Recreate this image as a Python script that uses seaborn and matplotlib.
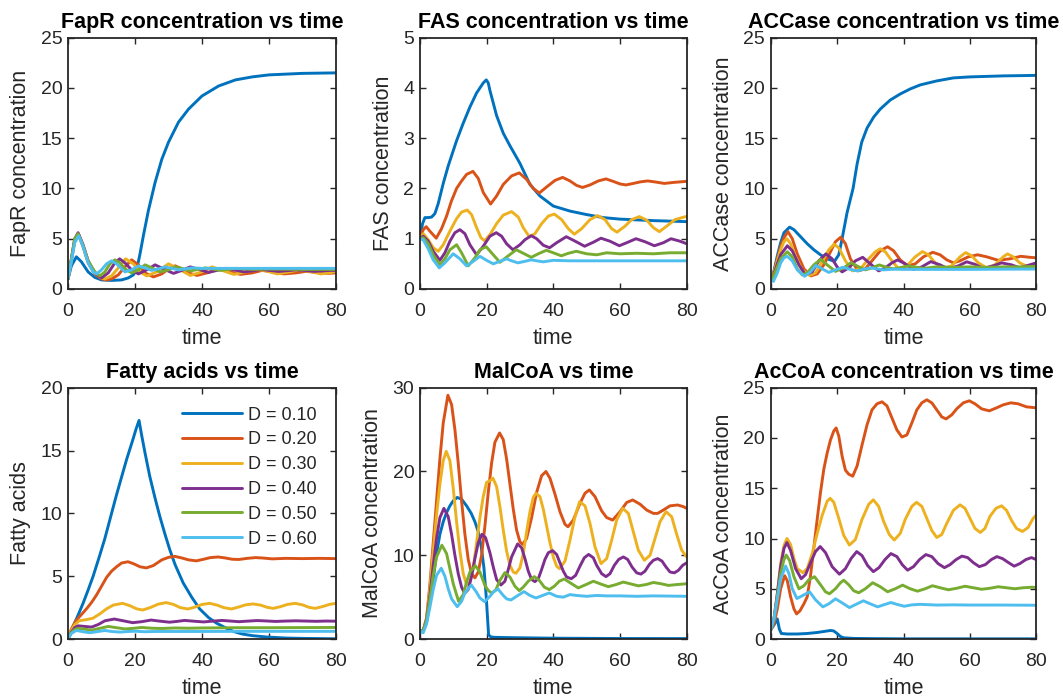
import pandas as pd
import matplotlib
matplotlib.use("Agg")
import matplotlib.pyplot as plt
import seaborn as sns

# dilution rates and MATLAB default line colours
D_LABELS = ["D = 0.10", "D = 0.20", "D = 0.30", "D = 0.40", "D = 0.50", "D = 0.60"]
COLORS = ["#0072BD", "#D95319", "#EDB120", "#7E2F8E", "#77AC30", "#4DBEEE"]

# ---------------- FapR concentration ----------------
fapr_t_10 = [0, 1, 2.5, 4, 6, 8, 10, 13, 16, 18, 19.5, 20.5, 21.5, 22.5, 24, 26, 28, 30, 33, 36, 40, 45, 50, 55, 60, 70, 80]
fapr_y_10 = [1.0, 2.3, 3.2, 2.7, 1.7, 1.15, 0.9, 0.85, 0.9, 1.1, 1.4, 1.9, 3.5, 5.3, 7.8, 10.6, 12.9, 14.6, 16.6, 17.9, 19.2, 20.2, 20.8, 21.1, 21.3, 21.45, 21.5]
fapr_t_20 = [0, 1, 2, 3.2, 4.5, 6, 8, 10, 11.5, 13, 15, 17, 19, 21, 23, 25.5, 28, 30, 32, 34, 36, 38.5, 41.5, 45, 48.5, 51.5, 55, 58, 61, 64.5, 68, 71, 74.5, 77.5, 80]
fapr_y_20 = [1.0, 2.8, 4.8, 5.4, 4.2, 2.6, 1.5, 1.0, 0.9, 1.0, 1.4, 2.2, 2.9, 2.4, 1.6, 1.2, 1.5, 2.0, 2.3, 2.0, 1.6, 1.35, 1.6, 2.0, 1.7, 1.45, 1.6, 1.85, 1.7, 1.5, 1.6, 1.75, 1.65, 1.55, 1.6]
fapr_t_30 = [0, 1, 2, 3, 4.5, 6, 8, 10, 11, 13, 15, 17.2, 19.5, 21.5, 23.5, 26.5, 30, 33, 36.5, 40, 43, 46, 49.5, 53, 56, 59, 62.5, 66, 69, 72, 75.5, 78, 80]
fapr_y_30 = [1.0, 2.9, 4.9, 5.5, 4.3, 2.7, 1.6, 1.1, 1.0, 1.3, 2.1, 3.0, 2.5, 1.7, 1.3, 1.7, 2.5, 2.0, 1.35, 1.7, 2.2, 1.85, 1.45, 1.7, 2.0, 1.8, 1.5, 1.7, 1.9, 1.75, 1.5, 1.6, 1.75]
fapr_t_40 = [0, 1, 2, 3, 4.5, 6, 8, 10, 12, 14, 15.4, 17, 19, 21, 23.5, 26, 28.5, 31.5, 34, 36.5, 39, 42, 44.5, 47, 49.5, 52.5, 55, 57.5, 60, 63, 65.5, 68, 70.5, 73.5, 76, 78.5, 80]
fapr_y_40 = [1.0, 3.0, 5.0, 5.6, 4.4, 2.8, 1.6, 1.1, 1.6, 2.6, 3.0, 2.6, 1.9, 1.5, 1.9, 2.4, 2.0, 1.55, 1.85, 2.2, 1.95, 1.65, 1.85, 2.05, 1.9, 1.7, 1.8, 1.95, 1.85, 1.75, 1.82, 1.9, 1.85, 1.75, 1.8, 1.85, 1.85]
fapr_t_50 = [0, 1, 2, 3, 4.5, 6, 8, 9.5, 11, 12.5, 14, 15.5, 17, 19, 21, 23, 25, 27.5, 30, 32, 34, 36.5, 39, 41, 43, 45.5, 48, 50, 55, 60, 70, 80]
fapr_y_50 = [1.0, 3.0, 5.0, 5.5, 4.3, 2.8, 1.7, 1.3, 1.7, 2.5, 2.9, 2.6, 2.0, 1.6, 1.9, 2.4, 2.1, 1.7, 1.9, 2.2, 2.05, 1.8, 1.95, 2.1, 2.0, 1.85, 1.95, 2.05, 1.95, 1.98, 1.95, 1.95]
fapr_t_60 = [0, 1, 2, 3.2, 4.5, 6, 7.5, 8.5, 10, 11.5, 13, 14.5, 17, 19, 21, 23, 25, 27, 29, 31, 33, 35, 37, 40, 50, 60, 80]
fapr_y_60 = [1.0, 2.7, 4.6, 5.3, 4.2, 2.6, 1.7, 1.5, 1.9, 2.5, 2.8, 2.5, 1.7, 1.9, 2.3, 2.1, 1.85, 2.0, 2.2, 2.05, 1.9, 2.0, 2.1, 2.05, 2.05, 2.05, 2.05]

# ---------------- FAS concentration ----------------
fas_t_10 = [0, 0.8, 1.5, 2.5, 3.5, 4.5, 5.5, 7, 8.5, 10, 11, 13, 15, 17, 19, 19.9, 20.5, 21, 23, 25, 27, 30, 33, 36, 40, 45, 50, 55, 60, 70, 80]
fas_y_10 = [1.0, 1.3, 1.42, 1.42, 1.43, 1.5, 1.7, 2.1, 2.45, 2.75, 2.95, 3.3, 3.62, 3.9, 4.1, 4.16, 4.1, 3.95, 3.45, 3.1, 2.85, 2.5, 2.08, 1.85, 1.65, 1.55, 1.48, 1.42, 1.39, 1.36, 1.34]
fas_t_20 = [0, 1, 1.9, 3, 4.9, 6.5, 8, 9.4, 11, 12.4, 14, 15.9, 17.5, 19, 21.2, 23, 25, 27.5, 29.8, 32, 34, 35.8, 38, 40.5, 42.8, 45, 47, 48.8, 51, 53.5, 55.8, 58, 60, 61.8, 64, 66, 68.3, 70.5, 73.3, 76, 79.7, 80]
fas_y_20 = [1.0, 1.18, 1.24, 1.15, 1.01, 1.2, 1.45, 1.74, 2.0, 2.14, 2.28, 2.34, 2.2, 1.92, 1.69, 1.85, 2.08, 2.25, 2.31, 2.18, 2.0, 1.91, 2.03, 2.16, 2.22, 2.15, 2.06, 2.02, 2.07, 2.15, 2.19, 2.14, 2.09, 2.07, 2.1, 2.13, 2.15, 2.13, 2.10, 2.12, 2.14, 2.14]
fas_t_30 = [0, 1, 2.5, 4, 5.5, 7, 9, 11, 12.5, 14.2, 15.5, 17, 18.3, 19.4, 21, 23, 25, 27.5, 29.5, 31, 32.8, 34.5, 36.5, 38.5, 40.3, 42.5, 44.5, 46.3, 48.5, 51, 53.3, 55.5, 57.5, 59.1, 61.5, 63.5, 65.8, 68, 70, 71.8, 74, 76.5, 79.7, 80]
fas_y_30 = [1.0, 1.1, 0.98, 0.82, 0.75, 0.88, 1.15, 1.4, 1.53, 1.57, 1.48, 1.22, 1.02, 0.96, 1.08, 1.3, 1.47, 1.54, 1.43, 1.22, 1.04, 1.1, 1.3, 1.45, 1.49, 1.38, 1.2, 1.09, 1.2, 1.38, 1.46, 1.38, 1.2, 1.13, 1.25, 1.38, 1.44, 1.37, 1.22, 1.14, 1.25, 1.38, 1.44, 1.44]
fas_t_40 = [0, 1, 2.5, 4, 6, 7.5, 9, 10.5, 12, 13.5, 15, 17, 19, 21, 22.9, 24.5, 26, 27.9, 30, 31.5, 33.4, 35, 37, 38.9, 41, 43.9, 46, 49.4, 52, 54.3, 57, 59.8, 62, 64.8, 67.5, 70.3, 73, 75.3, 78, 80]
fas_y_40 = [1.0, 1.05, 0.95, 0.75, 0.57, 0.72, 0.95, 1.12, 1.18, 1.1, 0.88, 0.68, 0.85, 1.05, 1.12, 1.05, 0.9, 0.78, 0.88, 0.98, 1.06, 1.0, 0.87, 0.82, 0.92, 1.04, 0.97, 0.85, 0.93, 1.01, 0.95, 0.86, 0.92, 1.0, 0.94, 0.86, 0.92, 1.0, 0.95, 0.9]
fas_t_50 = [0, 1, 2.5, 4, 6, 7.5, 9, 11, 12.5, 14.5, 16.5, 18, 19.9, 22, 24, 26.5, 28.9, 31, 33.4, 35.5, 37.9, 40, 42.4, 44.5, 46.9, 50, 53, 56, 60, 65, 70, 75, 80]
fas_y_50 = [1.0, 1.02, 0.9, 0.68, 0.48, 0.6, 0.78, 0.88, 0.72, 0.46, 0.62, 0.78, 0.84, 0.68, 0.53, 0.66, 0.78, 0.71, 0.63, 0.7, 0.77, 0.72, 0.66, 0.71, 0.75, 0.7, 0.68, 0.72, 0.7, 0.71, 0.7, 0.72, 0.72]
fas_t_60 = [0, 1, 2.5, 4, 5.8, 7.5, 10, 12, 14, 16, 18, 20, 22, 24, 26, 27.5, 29.4, 31.5, 33.4, 35, 37, 40, 45, 50, 60, 70, 80]
fas_y_60 = [1.0, 0.98, 0.8, 0.58, 0.42, 0.52, 0.70, 0.6, 0.46, 0.55, 0.65, 0.57, 0.5, 0.55, 0.6, 0.56, 0.52, 0.55, 0.58, 0.56, 0.54, 0.57, 0.56, 0.56, 0.56, 0.56, 0.56]

# ---------------- ACCase concentration ----------------
acc_t_10 = [0, 1, 2, 3, 4, 5.7, 7, 9, 11, 13, 15, 17, 19.2, 20.5, 21.5, 23, 24.8, 26, 27.4, 29, 31, 33, 36, 39, 42, 45, 50, 55, 60, 70, 80]
acc_y_10 = [0.9, 1.8, 3.3, 4.6, 5.6, 6.15, 5.9, 5.2, 4.5, 3.9, 3.4, 3.0, 2.75, 3.4, 5.0, 7.6, 10.0, 12.4, 14.6, 16.0, 17.1, 17.9, 18.8, 19.4, 19.9, 20.3, 20.7, 21.0, 21.1, 21.2, 21.25]
acc_t_20 = [0, 1, 2, 3, 4, 5.2, 6.5, 8, 10, 12.1, 14, 16, 18, 19.5, 21.1, 22.5, 24, 26.3, 28.5, 31, 33, 35.2, 37, 39, 41.2, 43.5, 46, 48.8, 51, 53, 55, 57, 59.5, 62.3, 65, 68.5, 72, 75.3, 78, 80]
acc_y_20 = [0.9, 1.7, 3.0, 4.2, 5.1, 5.7, 5.0, 3.5, 2.0, 1.3, 1.5, 2.4, 3.7, 4.7, 5.15, 4.5, 3.0, 1.8, 2.0, 3.0, 3.8, 4.2, 3.8, 2.9, 2.3, 2.5, 3.2, 3.65, 3.4, 2.9, 2.6, 2.8, 3.2, 3.4, 3.2, 2.85, 3.0, 3.25, 3.15, 3.1]
acc_t_30 = [0, 1, 2, 3, 4, 4.9, 6, 7.5, 9.5, 11.7, 13.5, 15.5, 17.5, 19.1, 20.5, 22.5, 24.6, 27, 29.5, 31.5, 33, 34.5, 36.5, 38.5, 41, 43.5, 45.7, 47.5, 49.5, 52, 54.5, 57, 58.7, 60.5, 62.5, 65, 67.5, 70, 71.3, 73, 75, 77.5, 80]
acc_y_30 = [0.9, 1.6, 2.8, 3.9, 4.7, 5.0, 4.5, 3.2, 1.9, 1.35, 1.6, 2.7, 3.9, 4.45, 4.1, 2.8, 1.8, 2.0, 3.0, 3.7, 4.0, 3.7, 2.8, 2.0, 2.3, 3.2, 3.72, 3.4, 2.6, 2.05, 2.3, 3.2, 3.62, 3.3, 2.6, 2.1, 2.4, 3.2, 3.49, 3.2, 2.6, 2.2, 2.3]
acc_t_40 = [0, 1, 2, 3, 5, 6.5, 8.5, 10.5, 12.5, 14.5, 16.6, 18.5, 20, 21.5, 23.5, 25.5, 27.7, 30, 32.5, 34.5, 36.5, 38.2, 40.5, 43, 45.5, 48.2, 51, 53.5, 56.5, 59, 61.5, 64, 67, 69.5, 72.5, 75, 78, 80]
acc_y_40 = [0.9, 1.5, 2.5, 3.4, 4.3, 3.8, 2.4, 1.4, 1.7, 2.8, 3.49, 3.0, 2.2, 1.7, 2.1, 2.8, 3.15, 2.5, 1.8, 2.1, 2.6, 2.89, 2.5, 1.95, 2.2, 2.72, 2.4, 2.0, 2.3, 2.7, 2.45, 2.05, 2.3, 2.6, 2.4, 2.1, 2.4, 2.6]
acc_t_50 = [0, 1, 2, 3, 5, 6.5, 8, 9.5, 11, 13, 15.1, 17, 19.5, 22, 24.2, 26.5, 28.5, 30.5, 32.7, 35, 37, 39.5, 41.5, 44, 46, 50, 55, 60, 65, 70, 75, 80]
acc_y_50 = [0.9, 1.4, 2.2, 3.0, 3.7, 3.2, 2.0, 1.4, 1.6, 2.4, 2.95, 2.4, 1.75, 2.1, 2.62, 2.2, 1.9, 2.1, 2.39, 2.15, 2.0, 2.15, 2.3, 2.15, 2.05, 2.2, 2.15, 2.2, 2.15, 2.2, 2.2, 2.25]
acc_t_60 = [0, 0.8, 2, 3, 4, 5, 6.5, 8, 10.2, 12, 13.6, 15.5, 17.5, 19.5, 21.7, 24, 26, 28, 30, 32, 34, 37, 40, 50, 60, 70, 80]
acc_y_60 = [0.9, 0.75, 1.6, 2.6, 3.1, 3.25, 2.8, 1.9, 1.26, 1.7, 2.35, 2.0, 1.65, 1.9, 2.16, 1.95, 1.8, 1.95, 2.1, 2.0, 1.9, 1.97, 1.95, 1.95, 1.95, 1.97, 1.98]

# ---------------- Fatty acids ----------------
fa_t_10 = [0, 1, 2, 3, 4.5, 6, 7.5, 9.4, 11, 12.5, 14.4, 16, 17.5, 19.4, 20.3, 21.2, 22, 23, 24.4, 26, 27.4, 29, 30.4, 32, 34.4, 37, 39.3, 42, 44.3, 47, 49.3, 52, 55, 59.3, 65, 70, 80]
fa_y_10 = [0, 0.7, 1.3, 1.9, 2.85, 3.9, 5.0, 6.6, 8.0, 9.5, 11.4, 12.9, 14.3, 15.9, 16.7, 17.4, 16.2, 14.8, 12.96, 11.2, 9.77, 8.3, 7.1, 5.9, 4.46, 3.3, 2.4, 1.7, 1.27, 0.9, 0.61, 0.4, 0.27, 0.16, 0.08, 0.05, 0.02]
fa_t_20 = [0, 1, 2.5, 4, 5.5, 7, 8.5, 10, 11.5, 13, 14.5, 16, 17.9, 19.5, 21.5, 23.4, 25.5, 28, 30, 31.9, 34, 36, 38.3, 40.5, 42.5, 44.8, 47, 49, 51, 53.5, 56, 58, 61, 65, 70, 75, 80]
fa_y_20 = [0, 0.8, 1.5, 1.95, 2.4, 2.9, 3.5, 4.2, 4.9, 5.4, 5.75, 6.05, 6.15, 6.0, 5.75, 5.66, 5.85, 6.3, 6.5, 6.58, 6.45, 6.3, 6.22, 6.35, 6.48, 6.53, 6.45, 6.35, 6.33, 6.42, 6.48, 6.45, 6.38, 6.42, 6.4, 6.42, 6.4]
fa_t_30 = [0, 1, 2, 3.4, 5, 7.4, 9.5, 11.5, 13.5, 16.3, 18.5, 20.5, 22.3, 24.5, 27, 29.3, 31.5, 33.5, 35.8, 38, 40, 42.3, 44.5, 46.5, 48.8, 51, 53, 55.3, 57.5, 59.5, 61.3, 63.5, 65.5, 67.8, 70, 72, 73.8, 76, 78, 80]
fa_y_30 = [0, 0.7, 1.15, 1.46, 1.52, 1.65, 2.0, 2.4, 2.7, 2.84, 2.65, 2.4, 2.31, 2.5, 2.78, 2.9, 2.75, 2.5, 2.39, 2.55, 2.75, 2.84, 2.7, 2.5, 2.39, 2.55, 2.72, 2.79, 2.7, 2.52, 2.44, 2.58, 2.75, 2.84, 2.72, 2.52, 2.44, 2.58, 2.75, 2.84]
fa_t_40 = [0, 1, 2, 3, 5, 7, 9, 11, 13.8, 16.5, 19.3, 22, 24.8, 27.5, 30.3, 32.5, 34.8, 37.5, 40.5, 43, 46, 48.5, 51, 54, 56.5, 59, 62, 65, 68, 71, 74, 77, 80]
fa_y_40 = [0, 0.55, 0.9, 1.05, 1.0, 0.95, 1.15, 1.45, 1.59, 1.45, 1.3, 1.38, 1.51, 1.42, 1.34, 1.4, 1.48, 1.42, 1.36, 1.42, 1.48, 1.43, 1.38, 1.43, 1.47, 1.44, 1.4, 1.43, 1.45, 1.43, 1.41, 1.43, 1.42]
fa_t_50 = [0, 1, 2, 3, 5, 7, 9.5, 12, 14.5, 17, 19.5, 22, 25, 28, 32, 36, 40, 50, 60, 70, 80]
fa_y_50 = [0, 0.5, 0.75, 0.85, 0.78, 0.7, 0.85, 1.0, 0.9, 0.8, 0.85, 0.92, 0.86, 0.84, 0.88, 0.86, 0.88, 0.9, 0.9, 0.91, 0.92]
fa_t_60 = [0, 1, 2.5, 4.5, 6.5, 9, 11, 13, 15.5, 18, 20, 23, 26, 30, 40, 50, 60, 70, 80]
fa_y_60 = [0, 0.45, 0.68, 0.58, 0.5, 0.6, 0.68, 0.6, 0.55, 0.6, 0.62, 0.58, 0.6, 0.6, 0.6, 0.61, 0.61, 0.61, 0.61]

# ---------------- MalCoA concentration ----------------
mal_t_10 = [0, 1, 2, 3, 4, 5, 6, 7, 8, 9, 10, 11.2, 12.5, 14, 15.4, 16.5, 17.5, 18.4, 19.2, 19.9, 20.6, 21.3, 22.5, 25, 30, 40, 60, 80]
mal_y_10 = [1.0, 1.0, 2.0, 4.3, 7.2, 10.2, 12.5, 14.0, 15.1, 15.9, 16.5, 16.9, 16.7, 15.9, 15.0, 14.0, 12.8, 11.0, 8.5, 5.0, 0.5, 0.25, 0.2, 0.18, 0.15, 0.1, 0.06, 0.05]
mal_t_20 = [0, 1, 2, 3, 4, 5, 6, 7, 8.4, 9.5, 10.5, 11.5, 12.5, 13.5, 14.5, 15.5, 16.5, 17.5, 18.5, 19.5, 20.5, 21.5, 22.5, 23.9, 25, 26, 27, 28, 29, 30, 30.8, 32, 33.5, 35, 36.5, 37.8, 39, 40.5, 42, 43.5, 44.4, 46, 48, 49.5, 50.8, 52.5, 54.5, 56, 57.8, 60, 62, 63.8, 66, 68, 70, 71.3, 73, 75, 77.3, 79, 80]
mal_y_20 = [1.0, 1.0, 2.5, 6.5, 11.5, 16.5, 21.5, 25.8, 29.1, 28.0, 25.0, 21.0, 16.5, 12.5, 9.5, 7.8, 7.3, 8.0, 10.0, 13.5, 17.5, 21.0, 23.5, 24.6, 23.8, 21.5, 18.5, 15.5, 13.0, 11.6, 11.3, 12.0, 14.5, 17.5, 19.5, 20.0, 19.2, 17.3, 15.2, 13.7, 13.4, 14.2, 16.2, 17.4, 17.8, 17.0, 15.3, 14.5, 14.2, 15.2, 16.3, 16.6, 16.1, 15.4, 15.0, 15.0, 15.4, 15.9, 16.0, 15.8, 15.6]
mal_t_30 = [0, 1, 2, 3, 4, 5, 6, 7, 7.9, 9, 10, 11, 12, 13, 14, 15, 16, 17, 18, 19, 20, 21, 21.9, 23, 24, 25, 26, 27, 28, 28.8, 30, 31, 32, 33, 34, 34.8, 36, 37, 38, 39, 40, 41, 41.9, 43.5, 45, 46.5, 47.9, 49.5, 51, 52.5, 54.3, 56, 57.5, 59, 60.8, 62.5, 64, 65.5, 67.3, 69, 70.5, 72, 73.8, 75.5, 77, 78.5, 80]
mal_y_30 = [1.0, 1.0, 2.5, 6.0, 10.5, 14.8, 18.5, 21.3, 22.4, 21.3, 18.0, 14.0, 10.5, 7.8, 6.5, 6.8, 8.5, 11.5, 14.5, 17.0, 18.7, 18.9, 19.2, 18.2, 15.8, 13.0, 10.5, 8.8, 8.0, 7.85, 8.5, 10.2, 12.8, 15.2, 16.9, 17.4, 17.0, 15.5, 13.5, 11.5, 9.8, 8.7, 8.4, 9.3, 11.8, 14.6, 16.4, 15.9, 13.8, 11.0, 9.0, 9.6, 11.8, 14.2, 15.6, 15.0, 12.8, 10.6, 9.4, 10.0, 12.0, 14.0, 15.2, 14.6, 12.5, 10.6, 9.8]
mal_t_40 = [0, 1, 2, 3, 4, 5, 6, 7.2, 8.5, 9.5, 10.5, 11.5, 12.5, 13.4, 14.5, 15.5, 16.5, 17.5, 18.6, 19.7, 21, 22, 23, 24.3, 25.5, 26.5, 27.5, 29.3, 30.5, 31.5, 32.5, 33.5, 34.5, 35.5, 36.5, 37.5, 38.5, 39.8, 41, 42, 43, 44, 45.4, 46.7, 48, 49.3, 50.6, 52, 53, 54.5, 55.8, 57, 58.3, 59.6, 61, 62.3, 63.6, 65, 66.3, 67.5, 68.8, 70, 71.3, 72.6, 73.8, 75, 76.3, 77.5, 78.8, 80]
mal_y_40 = [1.0, 1.0, 2.3, 5.2, 8.8, 12.0, 14.5, 15.6, 14.6, 12.5, 10.0, 7.8, 6.2, 5.46, 5.9, 7.5, 9.6, 11.5, 12.5, 12.1, 10.3, 8.6, 7.1, 6.45, 6.9, 8.3, 9.8, 11.35, 10.9, 9.6, 8.1, 7.1, 6.85, 7.2, 8.3, 9.5, 10.3, 10.55, 10.1, 9.1, 8.1, 7.4, 7.2, 7.6, 8.7, 9.7, 10.1, 9.7, 8.8, 7.8, 7.45, 7.8, 8.8, 9.5, 9.8, 9.5, 8.6, 7.9, 7.75, 8.1, 8.9, 9.4, 9.6, 9.3, 8.6, 8.0, 7.9, 8.2, 8.8, 9.1]
mal_t_50 = [0, 1, 2, 3, 4, 5, 6.6, 8, 9, 10, 11.6, 13, 14, 15, 16.6, 18, 19.5, 20.5, 21.6, 22.8, 24, 25.5, 27, 28.5, 29.8, 31, 32.5, 34.3, 35.8, 37.3, 38.8, 40.3, 41.8, 43.3, 45.5, 47.5, 49.8, 52, 54, 56.5, 58.8, 61, 63, 65.5, 67.8, 70, 72.3, 74.5, 77, 80]
mal_y_50 = [1.0, 1.0, 2.2, 4.8, 7.6, 9.8, 11.2, 10.2, 8.4, 6.6, 4.5, 5.3, 6.8, 8.0, 8.76, 8.0, 6.4, 5.8, 5.46, 5.9, 7.0, 7.93, 7.4, 6.3, 5.78, 6.2, 6.9, 7.45, 7.0, 6.2, 5.9, 6.3, 6.9, 7.17, 6.6, 6.1, 6.5, 6.9, 6.6, 6.25, 6.5, 6.8, 6.6, 6.35, 6.5, 6.75, 6.6, 6.4, 6.5, 6.6]
mal_t_60 = [0, 1, 2, 3, 4, 5, 6.4, 7.5, 8.5, 9.5, 11.2, 12.5, 13.5, 15.4, 16.8, 18, 19.4, 21, 22, 23.4, 25, 26, 27.3, 29, 31.2, 33, 34.8, 36.8, 38.8, 41, 43, 45, 47, 50, 53, 56, 60, 65, 70, 80]
mal_y_60 = [0.9, 0.75, 1.8, 3.8, 5.9, 7.6, 8.45, 7.5, 6.0, 4.8, 3.86, 4.5, 5.5, 6.45, 5.7, 4.9, 4.46, 5.1, 5.6, 5.98, 5.2, 4.8, 4.66, 5.1, 5.66, 5.2, 4.9, 5.2, 5.5, 5.1, 5.0, 5.3, 5.2, 5.1, 5.2, 5.15, 5.15, 5.1, 5.15, 5.1]

# ---------------- AcCoA concentration ----------------
acoa_t_10 = [0, 1, 2, 2.6, 3.2, 5, 8, 11, 14, 16, 18, 19, 20, 21, 22, 25, 30, 40, 60, 80]
acoa_y_10 = [0.9, 1.4, 2.0, 1.0, 0.55, 0.5, 0.5, 0.55, 0.65, 0.75, 0.85, 0.8, 0.55, 0.25, 0.12, 0.06, 0.04, 0.02, 0.02, 0.02]
acoa_t_20 = [0, 1, 2, 3, 4.2, 5, 6, 7, 7.8, 8.8, 10, 11, 12, 13, 14, 15, 16, 17, 18, 19, 19.7, 20.5, 21.5, 22.5, 23.5, 24.7, 26, 27.5, 29, 30.5, 32, 33.5, 35, 36.5, 38, 39.5, 41, 42.5, 44, 45.5, 47, 48.5, 50, 51.5, 52.8, 54.5, 56, 58, 59.8, 61.5, 63.5, 65.8, 68, 70, 72.3, 74.5, 77, 80]
acoa_y_20 = [0.9, 1.5, 3.0, 5.0, 6.3, 5.8, 4.2, 3.0, 2.5, 2.8, 3.5, 4.2, 6.3, 9.1, 11.9, 14.6, 16.9, 18.5, 19.8, 20.7, 21.0, 20.2, 18.2, 16.8, 16.4, 16.2, 17.2, 19.3, 21.3, 22.8, 23.4, 23.6, 23.2, 22.0, 20.8, 20.1, 20.3, 21.5, 22.8, 23.5, 23.8, 23.5, 22.8, 22.1, 21.9, 22.3, 22.9, 23.5, 23.7, 23.4, 22.9, 22.7, 23.0, 23.3, 23.5, 23.4, 23.1, 23.0]
acoa_t_30 = [0, 1, 2, 3, 4, 4.9, 6, 7, 8, 9.7, 11, 12.5, 14, 15.5, 17, 17.9, 19, 20.5, 22, 23.7, 25.5, 27.5, 29.5, 30.9, 32.5, 34, 35.7, 37.2, 39, 40.5, 42.5, 43.9, 45.5, 47, 48.5, 50, 51.5, 53, 55, 57, 58.5, 60, 61.5, 63.1, 64.5, 66, 67.8, 69.5, 71, 72.5, 74, 75.8, 77.5, 79, 80]
acoa_y_30 = [0.9, 2.0, 4.5, 7.5, 9.3, 10.0, 9.4, 8.0, 7.0, 6.6, 7.0, 8.5, 10.5, 12.3, 13.7, 14.0, 13.6, 12.0, 10.3, 9.35, 9.9, 11.9, 13.4, 13.85, 13.2, 11.7, 10.4, 9.85, 10.5, 11.9, 13.2, 13.6, 13.2, 12.0, 10.8, 10.1, 10.4, 11.5, 12.8, 13.35, 13.0, 12.0, 11.0, 10.6, 11.0, 12.2, 13.0, 13.25, 12.8, 11.8, 11.0, 10.7, 11.1, 12.0, 12.35]
acoa_t_40 = [0, 1, 2, 3, 4, 4.9, 6, 7.5, 9.2, 10.5, 12, 13.5, 14.9, 16.5, 18.5, 20.7, 22.5, 24.2, 25.9, 27.5, 29.2, 30.9, 32.6, 34.4, 36.2, 38, 39.6, 41.2, 43, 44.8, 46.7, 48.5, 50.4, 52.3, 54, 55.8, 57.6, 59.3, 61, 62.8, 64.6, 66.4, 68.1, 69.8, 71.6, 73.3, 75, 76.8, 78.5, 80]
acoa_y_40 = [0.9, 2.0, 4.5, 7.2, 9.0, 9.6, 8.8, 7.0, 6.0, 6.4, 7.6, 8.7, 9.2, 8.6, 7.2, 6.45, 7.0, 8.0, 8.7, 8.3, 7.3, 6.7, 7.1, 7.9, 8.5, 8.2, 7.4, 6.85, 7.2, 7.9, 8.4, 8.2, 7.5, 7.1, 7.4, 7.9, 8.25, 8.1, 7.6, 7.2, 7.4, 7.9, 8.2, 8.0, 7.6, 7.25, 7.5, 7.9, 8.1, 7.9]
acoa_t_50 = [0, 1, 2, 3, 4, 4.7, 5.7, 7, 8.5, 10, 11.5, 13.2, 15, 16.5, 17.7, 19.5, 21, 22, 23.5, 25, 26.5, 28.5, 30.7, 33, 35.2, 37.5, 39.7, 42, 44.2, 46.5, 48.7, 51, 53.5, 56, 58.5, 61, 63.5, 66, 68.5, 71, 73.5, 76, 78.5, 80]
acoa_y_50 = [0.9, 2.0, 4.2, 6.5, 7.9, 8.35, 7.8, 6.2, 5.0, 5.3, 5.9, 6.2, 5.4, 4.7, 4.5, 5.0, 5.6, 5.85, 5.4, 4.8, 4.6, 5.0, 5.6, 5.2, 4.7, 5.0, 5.36, 5.0, 4.76, 5.0, 5.3, 5.1, 4.9, 5.05, 5.25, 5.1, 4.95, 5.05, 5.2, 5.1, 5.0, 5.1, 5.15, 5.13]
acoa_t_60 = [0, 1, 2, 3, 4.5, 5.5, 6.5, 7.9, 9.5, 11.7, 13.5, 15.7, 17.5, 19.5, 21.5, 23.7, 26, 27.9, 30, 32.2, 34, 36.2, 38, 40.2, 42.5, 45, 50, 55, 60, 70, 80]
acoa_y_60 = [0.9, 2.0, 4.0, 6.0, 7.26, 6.5, 5.0, 4.03, 4.3, 4.7, 3.9, 3.2, 3.5, 4.0, 3.6, 3.13, 3.5, 3.8, 3.5, 3.2, 3.4, 3.63, 3.45, 3.26, 3.4, 3.45, 3.38, 3.4, 3.38, 3.38, 3.36]


def panel_frame(curves):
    parts = []
    for label, (t, y) in zip(D_LABELS, curves):
        parts.append(pd.DataFrame({"time": t, "value": y, "D": label}))
    return pd.concat(parts, ignore_index=True)


sns.set_theme(style="ticks")
plt.rcParams["font.family"] = ["Liberation Sans", "DejaVu Sans"]

panels = [
    ("FapR concentration vs time", "FapR concentration", 25, 5,
     [(fapr_t_10, fapr_y_10), (fapr_t_20, fapr_y_20), (fapr_t_30, fapr_y_30),
      (fapr_t_40, fapr_y_40), (fapr_t_50, fapr_y_50), (fapr_t_60, fapr_y_60)]),
    ("FAS concentration vs time", "FAS concentration", 5, 1,
     [(fas_t_10, fas_y_10), (fas_t_20, fas_y_20), (fas_t_30, fas_y_30),
      (fas_t_40, fas_y_40), (fas_t_50, fas_y_50), (fas_t_60, fas_y_60)]),
    ("ACCase concentration vs time", "ACCase concentration", 25, 5,
     [(acc_t_10, acc_y_10), (acc_t_20, acc_y_20), (acc_t_30, acc_y_30),
      (acc_t_40, acc_y_40), (acc_t_50, acc_y_50), (acc_t_60, acc_y_60)]),
    ("Fatty acids vs time", "Fatty acids", 20, 5,
     [(fa_t_10, fa_y_10), (fa_t_20, fa_y_20), (fa_t_30, fa_y_30),
      (fa_t_40, fa_y_40), (fa_t_50, fa_y_50), (fa_t_60, fa_y_60)]),
    ("MalCoA vs time", "MalCoA concentration", 30, 10,
     [(mal_t_10, mal_y_10), (mal_t_20, mal_y_20), (mal_t_30, mal_y_30),
      (mal_t_40, mal_y_40), (mal_t_50, mal_y_50), (mal_t_60, mal_y_60)]),
    ("AcCoA concentration vs time", "AcCoA concentration", 25, 5,
     [(acoa_t_10, acoa_y_10), (acoa_t_20, acoa_y_20), (acoa_t_30, acoa_y_30),
      (acoa_t_40, acoa_y_40), (acoa_t_50, acoa_y_50), (acoa_t_60, acoa_y_60)]),
]

# axes boxes in figure fractions (left, bottom, width, height)
positions = [
    (0.064, 0.586, 0.252, 0.360), (0.395, 0.586, 0.251, 0.360), (0.725, 0.586, 0.250, 0.360),
    (0.064, 0.0845, 0.252, 0.360), (0.395, 0.0845, 0.251, 0.360), (0.725, 0.0845, 0.250, 0.360),
]

dark = "#262626"
fig = plt.figure(figsize=(10.63, 6.98), dpi=100)

for i, (title, ylabel, ymax, ystep, curves) in enumerate(panels):
    ax = fig.add_axes(positions[i])
    df = panel_frame(curves)
    sns.lineplot(data=df, x="time", y="value", hue="D", hue_order=D_LABELS,
                 palette=COLORS, estimator=None, sort=False, linewidth=2.1,
                 ax=ax, legend=(i == 3))
    ax.set_xlim(0, 80)
    ax.set_ylim(0, ymax)
    ax.set_xticks(range(0, 81, 20))
    ax.set_yticks(range(0, ymax + 1, ystep))
    ax.tick_params(direction="in", top=True, right=True, length=4, width=1.0,
                   colors=dark, labelsize=14, pad=4)
    ax.tick_params(axis="x", pad=10)
    for sp in ax.spines.values():
        sp.set_color(dark)
        sp.set_linewidth(1.3)
    ax.set_xlabel("time", fontsize=15.5, color=dark, labelpad=6)
    ax.set_ylabel(ylabel, fontsize=15.5, color=dark, labelpad=7)
    ax.set_title(title, fontsize=15.5, fontweight="bold", color="black", pad=7)
    if i == 3:
        handles, labels = ax.get_legend_handles_labels()
        ax.legend(handles, labels, loc="upper right", frameon=False, fontsize=13,
                  handlelength=3.3, handletextpad=0.35, labelspacing=0.43,
                  borderaxespad=0.3, borderpad=0.75)

fig.savefig("out.png", dpi=100)
